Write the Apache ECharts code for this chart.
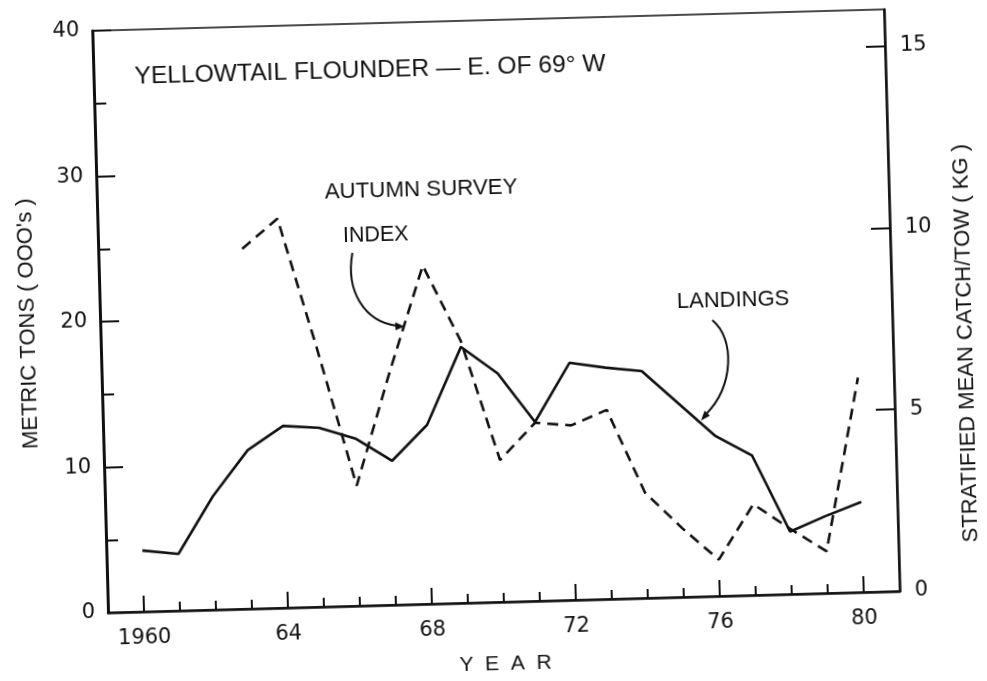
<!DOCTYPE html>
<html>
<head>
<meta charset="utf-8">
<script src="https://cdn.jsdelivr.net/npm/echarts@6/dist/echarts.min.js"></script>
<style>
html,body{margin:0;padding:0;background:#fff;overflow:hidden;}
#chart{width:987px;height:681px;transform:rotate(-1.55deg);transform-origin:496px 311px;}
</style>
</head>
<body>
<div id="chart"></div>
<script>
// ---- data ----
const years = [1960,1961,1962,1963,1964,1965,1966,1967,1968,1969,1970,1971,1972,1973,1974,1975,1976,1977,1978,1979,1980];
const landings = [4.2,3.9,7.8,10.9,12.5,12.3,11.5,9.9,12.3,17.6,15.7,12.3,16.3,15.9,15.6,13.3,11.0,9.6,4.3,5.3,6.2];
const surveyYears = [1963,1964,1965,1966,1967,1968,1969,1970,1971,1972,1973,1974,1975,1976,1977,1978,1979,1980];
const surveyIndex = [9.9,10.7,7.1,3.3,6.4,9.3,7.2,3.9,4.9,4.8,5.2,2.9,1.9,1.0,2.5,1.8,1.15,5.9];
const yearTicks = years;
const yearLabels = [1960,1964,1968,1972,1976,1980];
const rightTicks = [0,5,10,15];

const INK = '#111';
const chart = echarts.init(document.getElementById('chart'), null, {renderer:'canvas'});
const labelFont = {fontFamily:'DejaVu Sans', fontSize:21, color:INK};

chart.setOption({
  backgroundColor:'#fff',
  animation:false,
  grid:{left:100, top:20, right:95, bottom:79, show:true, borderColor:INK, borderWidth:1.5},
  xAxis:[
    {type:'value', min:1959, max:1981, position:'bottom',
     axisLine:{show:true, onZero:false, lineStyle:{color:INK, width:2.5}},
     axisTick:{show:true, inside:true, length:9, customValues:yearTicks, lineStyle:{color:INK, width:2}},
     axisLabel:{show:false}, splitLine:{show:false}},
    {type:'value', min:1959, max:1981, position:'bottom',
     axisLine:{show:false, onZero:false},
     axisTick:{show:true, inside:true, length:16, customValues:yearLabels, lineStyle:{color:INK, width:2}},
     axisLabel:Object.assign({customValues:yearLabels, margin:16,
       formatter:v => v===1960 ? '1960' : String(v % 100)}, labelFont),
     splitLine:{show:false},
     name:'Y  E  A  R', nameLocation:'middle', nameGap:52,
     nameTextStyle:{fontFamily:'Liberation Sans', fontSize:21, color:INK}}
  ],
  yAxis:[
    {type:'value', min:0, max:40, interval:10, position:'left',
     axisLine:{show:true, onZero:false, lineStyle:{color:INK, width:3}},
     axisTick:{show:true, inside:true, length:19, lineStyle:{color:INK, width:2}},
     minorTick:{show:true, splitNumber:2, length:12, lineStyle:{color:INK, width:2}},
     axisLabel:Object.assign({margin:13}, labelFont),
     splitLine:{show:false}, minorSplitLine:{show:false},
     name:'METRIC TONS ( OOO\'s )', nameLocation:'middle', nameRotate:90, nameGap:61,
     nameTextStyle:{fontFamily:'Liberation Sans', fontSize:22, color:INK}},
    {type:'value', min:0, max:16, position:'right',
     axisLine:{show:true, onZero:false, lineStyle:{color:INK, width:2.5}},
     axisTick:{show:true, inside:true, length:19, customValues:rightTicks, lineStyle:{color:INK, width:2}},
     axisLabel:Object.assign({customValues:rightTicks, margin:15}, labelFont),
     splitLine:{show:false},
     name:'STRATIFIED MEAN CATCH/TOW ( KG )', nameLocation:'middle', nameRotate:90, nameGap:62,
     nameTextStyle:{fontFamily:'Liberation Sans', fontSize:22, color:INK, padding:[0,90,0,0]}}
  ],
  series:[
    {name:'LANDINGS', type:'line', xAxisIndex:0, yAxisIndex:0, symbol:'none',
     data:years.map((y,i)=>[y, landings[i]]),
     lineStyle:{color:INK, width:2.6}},
    {name:'AUTUMN SURVEY INDEX', type:'line', xAxisIndex:0, yAxisIndex:1, symbol:'none',
     data:surveyYears.map((y,i)=>[y, surveyIndex[i]]),
     lineStyle:{color:INK, width:2.6, type:[11,7]}}
  ],
  graphic:[
    {type:'text', x:141, y:67, style:{text:'YELLOWTAIL FLOUNDER — E. OF 69° W', font:'24.6px "Liberation Sans"', fill:INK, textAlign:'left', textVerticalAlign:'middle'}},
    {type:'text', x:328, y:188, style:{text:'AUTUMN SURVEY', font:'22.3px "Liberation Sans"', fill:INK, textAlign:'left', textVerticalAlign:'middle'}},
    {type:'text', x:345, y:232, style:{text:'INDEX', font:'21.5px "Liberation Sans"', fill:INK, textAlign:'left', textVerticalAlign:'middle'}},
    {type:'text', x:677, y:307, style:{text:'LANDINGS', font:'22px "Liberation Sans"', fill:INK, textAlign:'left', textVerticalAlign:'middle'}},
    {type:'bezierCurve', shape:{x1:354,y1:249,cpx1:346,cpy1:288,cpx2:365,cpy2:318,x2:396,y2:323}, style:{stroke:INK, lineWidth:2, fill:null}},
    {type:'polygon', shape:{points:[[404,324],[395,319.5],[395,327.5]]}, style:{fill:INK}},
    {type:'bezierCurve', shape:{x1:712,y1:326,cpx1:734,cpy1:345,cpx2:732,cpy2:392,x2:703,y2:420}, style:{stroke:INK, lineWidth:2, fill:null}},
    {type:'polygon', shape:{points:[[698,426],[707,421.5],[701.8,416.3]]}, style:{fill:INK}}
  ]
});
</script>
</body>
</html>
